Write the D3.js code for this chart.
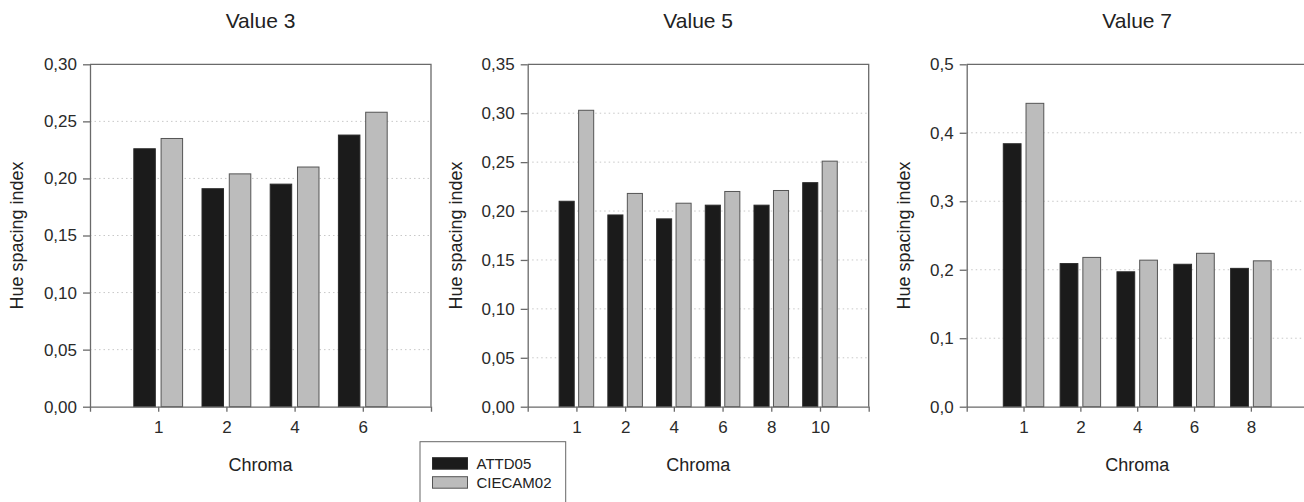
<!DOCTYPE html>
<html>
<head>
<meta charset="UTF-8">
<title>Hue spacing index</title>
<script src="https://d3js.org/d3.v7.min.js"></script>
<style>
  body { margin: 0; background: #fff; }
  svg { font-family: "Liberation Sans", Arial, sans-serif; }
  .axis path, .axis line { stroke: #6a6a6a; stroke-width: 1.3px; }
  .axis text { fill: #2a2a2a; font-size: 17px; }
  .grid line { stroke: #c8c8c8; stroke-width: 1px; stroke-dasharray: 1.5,3; }
  .frame { stroke: #6a6a6a; stroke-width: 1.3px; fill: none; }
  .title { font-size: 21px; fill: #222; }
  .ylab, .xlab { font-size: 18px; fill: #222; }
</style>
</head>
<body>
<script>
// data
var titles = ["Value 3", "Value 5", "Value 7"];
var seriesNames = ["ATTD05", "CIECAM02"];

var chromaV3 = ["1", "2", "4", "6"];
var attdV3 = [0.226, 0.191, 0.195, 0.238];
var ciecamV3 = [0.235, 0.204, 0.210, 0.258];

var chromaV5 = ["1", "2", "4", "6", "8", "10"];
var attdV5 = [0.210, 0.196, 0.192, 0.206, 0.206, 0.229];
var ciecamV5 = [0.303, 0.218, 0.208, 0.220, 0.221, 0.251];

var chromaV7 = ["1", "2", "4", "6", "8"];
var attdV7 = [0.384, 0.209, 0.197, 0.208, 0.202];
var ciecamV7 = [0.443, 0.218, 0.214, 0.224, 0.213];

var yMaxes = [0.30, 0.35, 0.5];
var ySteps = [0.05, 0.05, 0.1];
var yDecimals = [2, 2, 1];

var panels = [
  {title: titles[0], cats: chromaV3, vals: [attdV3, ciecamV3], yMax: yMaxes[0], step: ySteps[0], dec: yDecimals[0], left: 90, labOff: 67},
  {title: titles[1], cats: chromaV5, vals: [attdV5, ciecamV5], yMax: yMaxes[1], step: ySteps[1], dec: yDecimals[1], left: 527.7, labOff: 66},
  {title: titles[2], cats: chromaV7, vals: [attdV7, ciecamV7], yMax: yMaxes[2], step: ySteps[2], dec: yDecimals[2], left: 966.7, labOff: 57}
];

var colors = ["#1b1b1b", "#bcbcbc"];
var strokes = ["#2a2a2a", "#555"];

var W = 1304, H = 502;
var plotTop = 64.3, plotH = 342.4, plotW = 341;

var locale = d3.formatLocale({decimal: ",", thousands: ".", grouping: [3], currency: ["", ""]});

var svg = d3.select("body").append("svg")
    .attr("width", W)
    .attr("height", H);

panels.forEach(function(p) {
  var n = p.cats.length;
  var g = svg.append("g").attr("transform", "translate(" + p.left + "," + plotTop + ")");

  var x = d3.scaleLinear().domain([0, n + 1]).range([0, plotW]);
  var y = d3.scaleLinear().domain([0, p.yMax]).range([plotH, 0]);
  var stepPx = x(1) - x(0);
  var barW = stepPx * 0.33, half = stepPx * 0.035;

  var ticks = d3.range(0, p.yMax + p.step / 2, p.step);

  // dotted grid
  g.append("g").attr("class", "grid")
    .selectAll("line")
    .data(ticks.slice(1, -1))
    .enter().append("line")
    .attr("x1", 0).attr("x2", plotW)
    .attr("y1", function(d) { return y(d); })
    .attr("y2", function(d) { return y(d); });

  // bars
  p.vals.forEach(function(vals, s) {
    g.append("g").selectAll("rect")
      .data(vals)
      .enter().append("rect")
      .attr("x", function(d, i) { return s == 0 ? x(i + 1) - half - barW + 0.5 : x(i + 1) + half + 0.5; })
      .attr("width", barW - 1)
      .attr("y", function(d) { return y(d); })
      .attr("height", function(d) { return plotH - y(d); })
      .attr("fill", colors[s])
      .attr("stroke", strokes[s])
      .attr("stroke-width", 1);
  });

  // frame top + right
  g.append("path").attr("class", "frame")
    .attr("d", "M0," + y(p.yMax) + "H" + plotW + "V" + plotH);

  g.append("g").attr("class", "axis")
    .attr("transform", "translate(0," + plotH + ")")
    .call(d3.axisBottom(x)
      .tickValues(d3.range(1, n + 1))
      .tickFormat(function(d) { return p.cats[d - 1]; })
      .tickSizeInner(5).tickSizeOuter(5).tickPadding(9));

  g.append("g").attr("class", "axis")
    .call(d3.axisLeft(y)
      .tickValues(ticks)
      .tickFormat(locale.format("." + p.dec + "f"))
      .tickSizeInner(7).tickSizeOuter(0).tickPadding(6));

  g.append("text").attr("class", "title")
    .attr("x", plotW / 2).attr("y", 28 - plotTop)
    .attr("text-anchor", "middle")
    .text(p.title);

  g.append("text").attr("class", "xlab")
    .attr("x", plotW / 2).attr("y", 471 - plotTop)
    .attr("text-anchor", "middle")
    .text("Chroma");

  g.append("text").attr("class", "ylab")
    .attr("transform", "translate(" + (-p.labOff) + "," + plotH / 2 + ") rotate(-90)")
    .attr("text-anchor", "middle")
    .text("Hue spacing index");
});

// legend
var lg = svg.append("g").attr("transform", "translate(420,441.7)");
lg.append("rect")
  .attr("width", 145.7).attr("height", 80)
  .attr("fill", "#fff").attr("stroke", "#666").attr("stroke-width", 1);

var items = lg.selectAll(".item")
  .data(seriesNames)
  .enter().append("g")
  .attr("transform", function(d, i) { return "translate(12.5," + (16 + i * 19) + ")"; });

items.append("rect")
  .attr("width", 35).attr("height", 11.5)
  .attr("fill", function(d, i) { return colors[i]; })
  .attr("stroke", function(d, i) { return strokes[i]; });

items.append("text")
  .attr("x", 44).attr("y", 11.5)
  .attr("font-size", "15px").attr("fill", "#222")
  .text(function(d) { return d; });
</script>
</body>
</html>
